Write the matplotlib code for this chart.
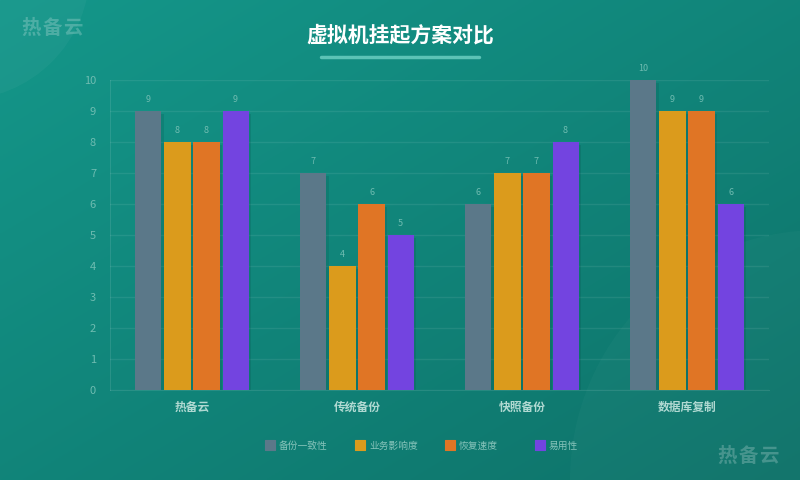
import matplotlib
matplotlib.use("Agg")
import matplotlib.pyplot as plt
import matplotlib.patheffects as pe
from matplotlib.patches import Circle, Rectangle
import numpy as np

plt.rcParams["font.family"] = ["Noto Sans CJK SC", "DejaVu Sans"]

categories = ["热备云", "传统备份", "快照备份", "数据库复制"]
series_names = ["备份一致性", "业务影响度", "恢复速度", "易用性"]
consistency = [9, 7, 6, 10]
impact = [8, 4, 7, 9]
recovery = [8, 6, 7, 9]
usability = [9, 5, 8, 6]
series_values = [consistency, impact, recovery, usability]
colors = ["#5b7889", "#db9b1c", "#e07525", "#7344e0"]

W, H = 800, 480
fig = plt.figure(figsize=(W / 100, H / 100), dpi=100)

# gradient background
bg = fig.add_axes([0, 0, 1, 1], zorder=-10)
yy, xx = np.mgrid[0:1:200j, 0:1:300j]
t = (xx + yy) / 2
c0 = np.array([0x14, 0x97, 0x8a]) / 255
c1 = np.array([0x0e, 0x72, 0x69]) / 255
img = c0[None, None, :] * (1 - t[..., None]) + c1[None, None, :] * t[..., None]
bg.imshow(img, extent=[0, W, H, 0], aspect="auto")
bg.add_patch(Circle((-40, -30), 130, color="white", alpha=0.035, lw=0))
bg.add_patch(Circle((820, 480), 250, color="white", alpha=0.025, lw=0))
bg.set_xlim(0, W)
bg.set_ylim(H, 0)
bg.axis("off")

# title + underline + watermarks
fig.text(400 / W, 1 - 35 / H, "虚拟机挂起方案对比", ha="center", va="center",
         color="white", fontsize=15, fontweight="bold")
bg.plot([321, 479], [57, 57], color="#5cc3b6", lw=2.5, solid_capstyle="round")
for cx, cy in [(31, 28), (727, 456)]:
    for i, ch in enumerate("热备云"):
        bg.text(cx + i * 21, cy, ch, ha="center", va="center",
                color="white", alpha=0.22, fontsize=14, fontweight="bold")

ax = fig.add_axes([110 / W, 1 - 390 / H, 659 / W, 310 / H])
ax.set_facecolor("none")

x = np.arange(len(categories))
pitch = 0.176
width = 0.158
offsets = (np.arange(len(series_names)) - 1.5) * pitch
shadow = [pe.SimplePatchShadow(offset=(2, -2), shadow_rgbFace="#064a44", alpha=0.18), pe.Normal()]
for vals, off, col, name in zip(series_values, offsets, colors, series_names):
    bars = ax.bar(x + off, vals, width, color=col, linewidth=0, label=name, zorder=3)
    for b, v in zip(bars, vals):
        b.set_path_effects(shadow)
        ax.text(b.get_x() + b.get_width() / 2, v + 0.22, str(v), ha="center", va="bottom",
                color="#6fbcb1", fontsize=6.5)

ax.set_xlim(-0.497, 3.497)
ax.set_ylim(0, 10)
ax.set_yticks(range(0, 11))
ax.grid(axis="y", color="#ffffff", alpha=0.08, lw=1)
ax.set_axisbelow(True)
for s in ["top", "right"]:
    ax.spines[s].set_visible(False)
for s in ["left", "bottom"]:
    ax.spines[s].set_color("#ffffff")
    ax.spines[s].set_alpha(0.1)
ax.tick_params(axis="y", length=0, colors="#6fbcb1", labelsize=8, pad=10)
ax.tick_params(axis="x", length=0, colors="#b0d9d2", labelsize=8.5, pad=8)
ax.set_xticks(x)
ax.set_xticklabels(categories, fontweight="bold")

# legend with fixed item spacing
for i, (name, col) in enumerate(zip(series_names, colors)):
    lx = 265 + i * 90
    bg.add_patch(Rectangle((lx, 440), 10, 10, facecolor=col, edgecolor=col, lw=0.8,
                           joinstyle="round"))
    bg.text(lx + 14, 446, name, ha="left", va="center", color="#86c3ba", fontsize=7)

fig.savefig("out.png", dpi=100)
